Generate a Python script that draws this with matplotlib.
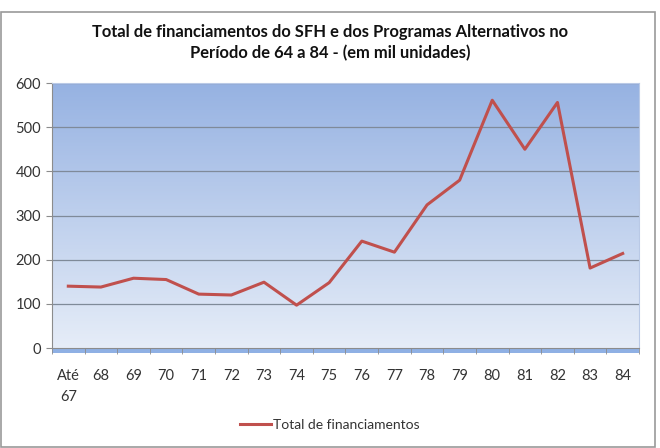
import matplotlib.pyplot as plt
import numpy as np
from matplotlib.patches import Rectangle

# categories and values (mil unidades)
categories = ['Até\n67', '68', '69', '70', '71', '72', '73', '74', '75',
              '76', '77', '78', '79', '80', '81', '82', '83', '84']
financiamentos = [140, 138, 158, 155, 122, 120, 149, 97, 148,
                  242, 217, 324, 380, 561, 450, 556, 181, 214]
y_ticks = [0, 100, 200, 300, 400, 500, 600]

plt.rcParams['font.family'] = ['Lato', 'DejaVu Sans']

fig = plt.figure(figsize=(6.6, 4.48), dpi=100)
W, H = 660, 448
ax = fig.add_axes([52 / W, 1 - 348 / H, (639 - 52) / W, (348 - 83) / H])

# outer chart border
fig.patches.append(Rectangle((1 / W, 1 - 447 / H), 654 / W, 435 / H,
                             transform=fig.transFigure, fill=False,
                             edgecolor='#9a9a9a', linewidth=1.2))

x = np.arange(len(categories))
ax.set_xlim(-0.5, len(categories) - 0.5)
ax.set_ylim(0, 600)

# gradient background
grad = np.linspace(0, 1, 256).reshape(-1, 1)
top = np.array([0x96, 0xb2, 0xe2]) / 255
bottom = np.array([0xe6, 0xed, 0xf8]) / 255
img = bottom + (top - bottom) * grad
ax.imshow(img[:, None, :].repeat(2, axis=1), aspect='auto',
          extent=(-0.5, len(categories) - 0.5, 0, 600), origin='lower', zorder=0)

# floor strip
ax.add_patch(Rectangle((0, -0.018), 1, 0.018, transform=ax.transAxes,
                       facecolor='#8fb0e4', edgecolor='none', clip_on=False, zorder=1))

for yv in y_ticks[1:]:
    ax.axhline(yv, color='#7f8a99', linewidth=0.9, zorder=1)

ax.plot(x, financiamentos, color='#c0504d', linewidth=2.2, zorder=3,
        label='Total de financiamentos')

for s in ['top', 'right']:
    ax.spines[s].set_color('#b9c9e6')
ax.spines['left'].set_color('#8c8c8c')
ax.spines['bottom'].set_color('#8c8c8c')

ax.set_yticks(y_ticks)
ax.set_xticks(x)
ax.set_xticklabels(categories, linespacing=1.65, va='top')
ax.set_xticks(np.arange(len(categories) + 1) - 0.5, minor=True)
ax.tick_params(axis='x', which='major', length=0, pad=15, labelsize=10.5, colors='#333333')
ax.tick_params(axis='x', which='minor', length=4, color='#8c8c8c')
ax.tick_params(axis='y', length=4, color='#8c8c8c', labelsize=10.5, colors='#333333', pad=4)

fig.text(0.5, 1 - 32 / H, 'Total de financiamentos do SFH e dos Programas Alternativos no',
         ha='center', va='center', fontsize=11.9, fontweight='bold', color='#111111')
fig.text(0.5, 1 - 53 / H, 'Período de 64 a 84 - (em mil unidades)',
         ha='center', va='center', fontsize=11.9, fontweight='bold', color='#111111')

fig.legend(loc='center', bbox_to_anchor=(0.5, 1 - 425 / H), frameon=False,
           fontsize=10, handlelength=2.2, handletextpad=0.2, labelcolor='#333333')

fig.savefig('out.png', dpi=100)
